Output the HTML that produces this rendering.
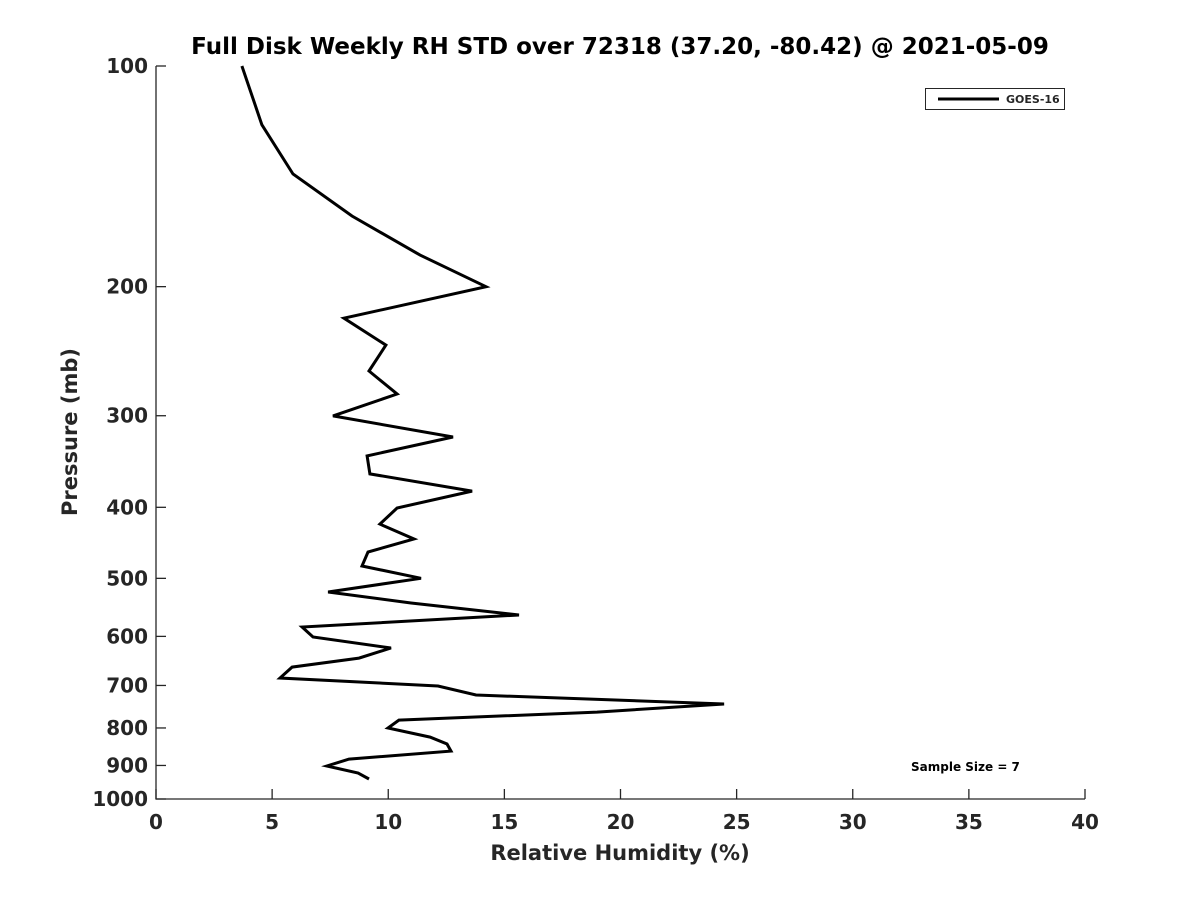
<!DOCTYPE html>
<html><head><meta charset="utf-8"><style>
body{margin:0;background:#fff;}
svg text{font-family:"DejaVu Sans","Liberation Sans",sans-serif;font-weight:bold;fill:#262626;}
</style></head><body>
<svg id="chart" width="1200" height="900" xmlns="http://www.w3.org/2000/svg">
<rect width="1200" height="900" fill="#fff"/>
<text x="620" y="54" font-size="23" text-anchor="middle" fill="#000" style="fill:#000">Full Disk Weekly RH STD over 72318 (37.20, -80.42) @ 2021-05-09</text>
<g id="axes"></g>
<text x="620" y="860" font-size="21" text-anchor="middle">Relative Humidity (%)</text>
<text transform="translate(77,432) rotate(-90)" font-size="21" text-anchor="middle">Pressure (mb)</text>
<g>
<rect x="925.5" y="88.5" width="139" height="21" fill="#fff" stroke="#262626" stroke-width="1"/>
<line x1="938" y1="99" x2="999" y2="99" stroke="#000" stroke-width="3"/>
<text x="1006" y="103" font-size="11">GOES-16</text>
</g>
<text x="911" y="771" font-size="12" fill="#000" style="fill:#000">Sample Size = 7</text>
</svg>
<script>
const xTicks=[0,5,10,15,20,25,30,35,40];
const yTicks=[100,200,300,400,500,600,700,800,900,1000];
const rhValues=[3.7,4.56,5.9,8.44,11.37,14.21,8.09,9.90,9.17,10.38,7.62,12.79,9.09,9.21,13.61,10.38,9.64,11.11,9.13,8.87,11.41,7.41,10.98,15.63,6.29,6.76,10.12,8.74,5.86,5.34,12.14,13.78,24.46,18.99,10.46,9.99,11.80,12.53,12.70,8.31,7.36,8.70,9.17];
const pressures=[100,120.3,140.4,160.2,181.1,200,220.8,240.3,260.7,280.2,300.2,320.7,340.4,360.2,380.1,400.9,421.6,441.9,460.3,481,500,521.9,540.2,561,582.5,601.2,622.3,642.3,660.7,683.9,701.2,721.3,742,761,780.4,800.2,823.2,841.4,860.2,882.1,901.6,921.5,939];
const X0=156,X1=1085,Y0=66,Y1=799;
const xs=v=>X0+(v-0)/(40-0)*(X1-X0);
const ys=p=>Y0+(Math.log10(p)-2)/(3-2)*(Y1-Y0);
const NS="http://www.w3.org/2000/svg";
const svg=document.getElementById('chart');
const g=document.getElementById('axes');
function mk(tag,attrs,parent){const e=document.createElementNS(NS,tag);for(const k in attrs)e.setAttribute(k,attrs[k]);(parent||g).appendChild(e);return e;}
let ax=mk('path',{d:`M${X0},${Y0}V${Y1}H${X1}`,fill:'none',stroke:'#262626','stroke-width':1.3});


xTicks.forEach(v=>{
 const x=xs(v);
 const t=mk('line',{x1:x,x2:x,y1:Y1,y2:Y1-10,stroke:'#262626','stroke-width':1.3});
 
 
 const l=mk('text',{x:x,y:Y1+30,'font-size':20,'text-anchor':'middle'});
 l.textContent=v;
 
 
});
yTicks.forEach(p=>{
 const y=ys(p);
 const t=mk('line',{x1:X0,x2:X0+10,y1:y,y2:y,stroke:'#262626','stroke-width':1.3});
 
 
 const l=mk('text',{x:X0-8,y:y+7,'font-size':20,'text-anchor':'end'});
 l.textContent=p;
 
 
});
const d=rhValues.map((v,i)=>(i?'L':'M')+xs(v).toFixed(1)+','+ys(pressures[i]).toFixed(1)).join('');
const line=mk('path',{d:d,fill:'none',stroke:'#000','stroke-width':3,'stroke-linejoin':'miter'},svg);


</script>
</body></html>
